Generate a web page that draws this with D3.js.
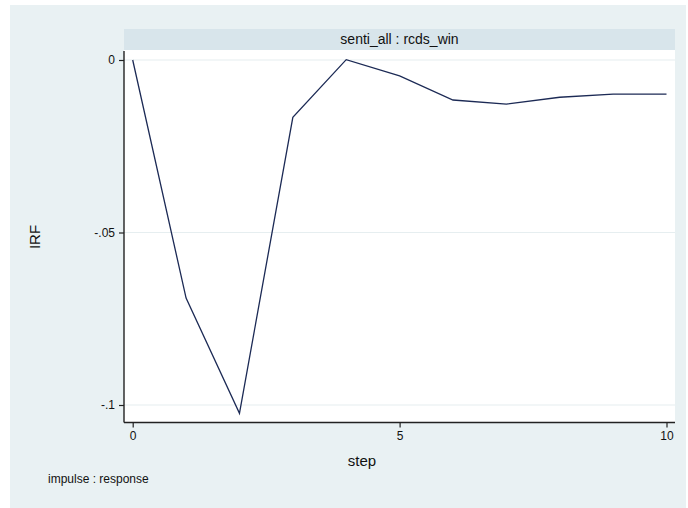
<!DOCTYPE html>
<html>
<head>
<meta charset="utf-8">
<script src="https://cdn.jsdelivr.net/npm/d3@7"></script>
<style>
  html, body { margin: 0; padding: 0; background: #ffffff; }
  svg { display: block; font-family: "Liberation Sans", Arial, sans-serif; }
</style>
</head>
<body>
<svg id="chart" width="688" height="508"></svg>
<script>
// Impulse response: senti_all -> rcds_win
const steps = [0, 1, 2, 3, 4, 5, 6, 7, 8, 9, 10];
const irf = [0, -0.069, -0.1024, -0.0166, 0.0001, -0.0046, -0.0116, -0.0128, -0.0108, -0.0099, -0.0099];
const yTicks = [0, -0.05, -0.1];
const yTickLabels = ["0", "-.05", "-.1"];
const xTicks = [0, 5, 10];
const panelTitle = "senti_all : rcds_win";
const xTitle = "step";
const yTitle = "IRF";
const note = "impulse : response";

const svg = d3.select("#chart");

// outer graph region
svg.append("rect")
  .attr("x", 10).attr("y", 5).attr("width", 676).attr("height", 503)
  .attr("fill", "#e9f1f3");

const plot = { left: 124, right: 675, top: 50, bottom: 422.5 };

// panel strip
svg.append("rect")
  .attr("x", plot.left).attr("y", 29).attr("width", plot.right - plot.left).attr("height", 21)
  .attr("fill", "#d8e5eb");
svg.append("text")
  .attr("x", (plot.left + plot.right) / 2).attr("y", 44)
  .attr("text-anchor", "middle").attr("font-size", 14).attr("fill", "#111")
  .text(panelTitle);

// plot area
svg.append("rect")
  .attr("x", plot.left).attr("y", plot.top)
  .attr("width", plot.right - plot.left).attr("height", plot.bottom - plot.top)
  .attr("fill", "#ffffff");

const x = d3.scaleLinear().domain([0, 10]).range([132.7, 666.5]);
const y = d3.scaleLinear().domain([-0.1, 0]).range([405, 60]);

// gridlines
svg.append("g").selectAll("line").data(yTicks).join("line")
  .attr("x1", plot.left).attr("x2", plot.right)
  .attr("y1", d => y(d)).attr("y2", d => y(d))
  .attr("stroke", "#e6eef0").attr("stroke-width", 1.2);

// IRF line
const line = d3.line().x((d, i) => x(steps[i])).y(d => y(d));
svg.append("path")
  .datum(irf)
  .attr("d", line)
  .attr("fill", "none")
  .attr("stroke", "#1c2a55")
  .attr("stroke-width", 1.3);

// y axis
const yAxis = d3.axisLeft(y).tickValues(yTicks)
  .tickFormat((d, i) => yTickLabels[i]).tickSize(5).tickPadding(4);
const gy = svg.append("g").attr("transform", `translate(${plot.left},0)`).call(yAxis);
gy.select(".domain").attr("d", `M0,${plot.top + 1}V${plot.bottom}`).attr("stroke", "#222").attr("stroke-width", 1.4);
gy.selectAll(".tick line").attr("stroke", "#222").attr("stroke-width", 1.2);
gy.selectAll(".tick text").attr("font-size", 12).attr("fill", "#111")
  .attr("font-family", "Liberation Sans, Arial, sans-serif");

// x axis
const xAxis = d3.axisBottom(x).tickValues(xTicks).tickFormat(d3.format("d")).tickSize(5).tickPadding(4);
const gx = svg.append("g").attr("transform", `translate(0,${plot.bottom})`).call(xAxis);
gx.select(".domain").attr("d", `M${plot.left},0H${plot.right}`).attr("stroke", "#222").attr("stroke-width", 1.4);
gx.selectAll(".tick line").attr("stroke", "#222").attr("stroke-width", 1.2);
gx.selectAll(".tick text").attr("font-size", 12).attr("fill", "#111")
  .attr("font-family", "Liberation Sans, Arial, sans-serif");

// axis titles
svg.append("text")
  .attr("x", 362).attr("y", 466)
  .attr("text-anchor", "middle").attr("font-size", 15).attr("fill", "#111")
  .text(xTitle);
svg.append("text")
  .attr("transform", "translate(40,237) rotate(-90)")
  .attr("text-anchor", "middle").attr("font-size", 15).attr("fill", "#111")
  .text(yTitle);

// note
svg.append("text")
  .attr("x", 48).attr("y", 483)
  .attr("font-size", 12).attr("fill", "#111")
  .text(note);
</script>
</body>
</html>
